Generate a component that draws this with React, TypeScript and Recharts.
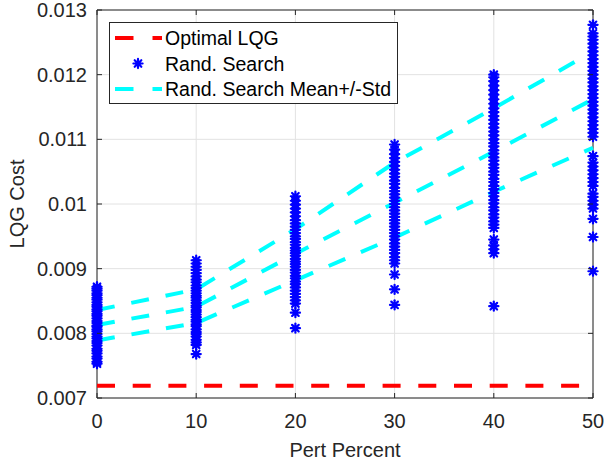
import {
  ComposedChart,
  Line,
  Scatter,
  XAxis,
  YAxis,
  CartesianGrid,
  ReferenceArea,
} from 'recharts'

// perturbation percentages on the x axis
const PERTS = [0, 10, 20, 30, 40, 50]
const X_TICKS = [0, 10, 20, 30, 40, 50]
const Y_TICKS = [0.007, 0.008, 0.009, 0.01, 0.011, 0.012, 0.013]

const OPTIMAL_COST = 0.00719

// dashed cyan curves: mean, mean+std, mean-std
const MEAN_COST = [0.00813, 0.00841, 0.00923, 0.01002, 0.01081, 0.01162]
const UPPER_COST = [0.00836, 0.00868, 0.00961, 0.01064, 0.01148, 0.01236]
const LOWER_COST = [0.00789, 0.00816, 0.00882, 0.00948, 0.01019, 0.01087]

// random search samples per pert percent
const RS_0 = [
  0.00753, 0.00756, 0.00761, 0.00764, 0.00769, 0.00773, 0.00776, 0.00781, 0.00785, 0.00788,
  0.00792, 0.00795, 0.00799, 0.00803, 0.00806, 0.0081, 0.00812, 0.00816, 0.00819, 0.00823,
  0.00827, 0.0083, 0.00834, 0.00837, 0.00841, 0.00844, 0.00848, 0.00852, 0.00855, 0.00859,
  0.00862, 0.00866, 0.00869, 0.00872,
]
const RS_10 = [
  0.00768, 0.00782, 0.00786, 0.0079, 0.00795, 0.00799, 0.00802, 0.00806, 0.00811, 0.00814,
  0.00818, 0.00821, 0.00825, 0.00829, 0.00833, 0.00836, 0.0084, 0.00843, 0.00847, 0.00851,
  0.00855, 0.00858, 0.00862, 0.00866, 0.0087, 0.00874, 0.00879, 0.00883, 0.00888, 0.00893,
  0.00898, 0.00903, 0.00908, 0.00913,
]
const RS_20 = [
  0.00808, 0.00832, 0.00846, 0.00851, 0.00856, 0.00861, 0.00866, 0.00871, 0.00876, 0.0088,
  0.00885, 0.00889, 0.00894, 0.00898, 0.00903, 0.00907, 0.00911, 0.00915, 0.0092, 0.00924,
  0.00928, 0.00932, 0.00937, 0.00941, 0.00946, 0.0095, 0.00955, 0.0096, 0.00965, 0.0097,
  0.00975, 0.00981, 0.00987, 0.00993, 0.00999, 0.01005, 0.01012,
]
const RS_30 = [
  0.00844, 0.00868, 0.00891, 0.00908, 0.00913, 0.00918, 0.00924, 0.00929, 0.00934, 0.00939,
  0.00945, 0.0095, 0.00955, 0.0096, 0.00965, 0.0097, 0.00975, 0.0098, 0.00985, 0.0099,
  0.00995, 0.01, 0.01005, 0.0101, 0.01015, 0.0102, 0.01025, 0.01031, 0.01036, 0.01042,
  0.01047, 0.01053, 0.01059, 0.01065, 0.01071, 0.01077, 0.01084, 0.01092,
]
const RS_40 = [
  0.00842, 0.00924, 0.0093, 0.00936, 0.00945, 0.00963, 0.00968, 0.00973, 0.00979, 0.00984,
  0.0099, 0.00995, 0.01001, 0.01006, 0.01012, 0.01017, 0.01023, 0.01028, 0.01034, 0.01039,
  0.01045, 0.0105, 0.01056, 0.01061, 0.01067, 0.01072, 0.01078, 0.01083, 0.01089, 0.01094,
  0.011, 0.01106, 0.01112, 0.01118, 0.01124, 0.0113, 0.01136, 0.01142, 0.01148, 0.01155,
  0.01162, 0.01169, 0.01176, 0.01183, 0.0119, 0.01196, 0.012,
]
const RS_50 = [
  0.00896, 0.00949, 0.00977, 0.00993, 0.00999, 0.01005, 0.01011, 0.01016, 0.01028, 0.01034,
  0.0104, 0.01046, 0.01052, 0.01058, 0.01064, 0.01074, 0.01104, 0.0111, 0.01116, 0.01122,
  0.01128, 0.01134, 0.0114, 0.01146, 0.01152, 0.01158, 0.01164, 0.0117, 0.01176, 0.01182,
  0.01188, 0.01194, 0.012, 0.01206, 0.01212, 0.01218, 0.01224, 0.0123, 0.01236, 0.01242,
  0.01248, 0.01254, 0.01259, 0.01264, 0.01277,
]
const SAMPLES = [RS_0, RS_10, RS_20, RS_30, RS_40, RS_50]

const W = 605
const H = 464
const MARGIN = { top: 10, right: 12, bottom: 0, left: 0 }
const X_AXIS_H = 66
const PLOT_TOP = MARGIN.top
const PLOT_BOTTOM = H - X_AXIS_H - MARGIN.bottom
const PLOT_LEFT = 97
const PLOT_RIGHT = W - MARGIN.right
const FONT = '"Liberation Sans", Arial, Helvetica, sans-serif'
const TEXT = '#262626'

const toPoints = (ys: number[]) => PERTS.map((x, i) => ({ x, y: ys[i] }))
const optimalData = PERTS.map((x) => ({ x, y: OPTIMAL_COST }))
const scatterData = SAMPLES.flatMap((vals, i) => vals.map((y) => ({ x: PERTS[i], y })))

// matlab-style '*' marker (reads as a small spiky blob at this size)
function Asterisk(props: any) {
  const { cx, cy } = props
  if (cx == null || cy == null) return null
  const r = 4.6
  const d = r * 0.72
  return (
    <g stroke="#0000FF" strokeWidth={2.2} strokeLinecap="round">
      <circle cx={cx} cy={cy} r={2.8} fill="#0000FF" stroke="none" />
      <line x1={cx - r} y1={cy} x2={cx + r} y2={cy} />
      <line x1={cx} y1={cy - r} x2={cx} y2={cy + r} />
      <line x1={cx - d} y1={cy - d} x2={cx + d} y2={cy + d} />
      <line x1={cx - d} y1={cy + d} x2={cx + d} y2={cy - d} />
    </g>
  )
}

function XTick({ x, payload }: any) {
  return (
    <g>
      <line x1={x} x2={x} y1={PLOT_BOTTOM} y2={PLOT_BOTTOM - 5} stroke={TEXT} />
      <line x1={x} x2={x} y1={PLOT_TOP} y2={PLOT_TOP + 5} stroke={TEXT} />
      <text x={x} y={PLOT_BOTTOM + 30} textAnchor="middle" fill={TEXT} fontSize={20} fontFamily={FONT}>
        {payload.value}
      </text>
    </g>
  )
}

function YTick({ y, payload }: any) {
  return (
    <g>
      <line x1={PLOT_LEFT} x2={PLOT_LEFT + 5} y1={y} y2={y} stroke={TEXT} />
      <line x1={PLOT_RIGHT} x2={PLOT_RIGHT - 5} y1={y} y2={y} stroke={TEXT} />
      <text x={PLOT_LEFT - 10} y={y + 7} textAnchor="end" fill={TEXT} fontSize={20} fontFamily={FONT}>
        {String(payload.value)}
      </text>
    </g>
  )
}

function LegendBox() {
  const rows = [
    { label: 'Optimal LQG', kind: 'line', color: '#FF0000', y: 38 },
    { label: 'Rand. Search', kind: 'star', color: '#0000FF', y: 63.5 },
    { label: 'Rand. Search Mean+/-Std', kind: 'line', color: '#00FFFF', y: 89 },
  ]
  return (
    <svg width={W} height={H} style={{ position: 'absolute', left: 0, top: 0, pointerEvents: 'none' }}>
      <rect x={109.5} y={22.5} width={288} height={81} fill="#fff" stroke={TEXT} strokeWidth={1} />
      {rows.map((r) => (
        <g key={r.label}>
          {r.kind === 'line' ? (
            <line x1={115} x2={162} y1={r.y} y2={r.y} stroke={r.color} strokeWidth={4} strokeDasharray="18.5 19" />
          ) : (
            <Asterisk cx={138} cy={r.y} />
          )}
          <text x={165} y={r.y + 7} fill="#000" fontSize={19.5} fontFamily={FONT}>
            {r.label}
          </text>
        </g>
      ))}
    </svg>
  )
}

export default function App() {
  return (
    <div style={{ position: 'absolute', left: 0, top: 0, width: W, height: H, background: '#fff' }}>
      <ComposedChart width={W} height={H} margin={MARGIN}>
        <CartesianGrid stroke="#e2e2e2" />
        <XAxis
          type="number"
          dataKey="x"
          domain={[0, 50]}
          ticks={X_TICKS}
          height={X_AXIS_H}
          axisLine={false}
          tickLine={false}
          tickSize={0}
          tick={<XTick />}
          interval={0}
          label={{ value: 'Pert Percent', position: 'insideBottom', offset: 7, fill: TEXT, fontSize: 20, fontFamily: FONT }}
        />
        <YAxis
          type="number"
          dataKey="y"
          domain={[0.007, 0.013]}
          ticks={Y_TICKS}
          width={PLOT_LEFT}
          axisLine={false}
          tickLine={false}
          tickSize={0}
          tick={<YTick />}
          interval={0}
          label={{
            value: 'LQG Cost',
            angle: -90,
            position: 'insideLeft',
            offset: 17,
            fill: TEXT,
            fontSize: 20,
            fontFamily: FONT,
            style: { textAnchor: 'middle' },
          }}
        />
        <ReferenceArea x1={0} x2={50} y1={0.007} y2={0.013} fill="none" stroke={TEXT} strokeWidth={1} />
        <Line
          data={optimalData}
          dataKey="y"
          type="linear"
          stroke="#FF0000"
          strokeWidth={4}
          strokeDasharray="18 17.7"
          dot={false}
          activeDot={false}
          isAnimationActive={false}
        />
        <Scatter data={scatterData} dataKey="y" shape={<Asterisk />} isAnimationActive={false} />
        {[UPPER_COST, MEAN_COST, LOWER_COST].map((ys, i) => (
          <Line
            key={i}
            data={toPoints(ys)}
            dataKey="y"
            type="linear"
            stroke="#00FFFF"
            strokeWidth={4}
            strokeDasharray="18 17"
            dot={false}
            activeDot={false}
            isAnimationActive={false}
          />
        ))}
      </ComposedChart>
      <LegendBox />
    </div>
  )
}
